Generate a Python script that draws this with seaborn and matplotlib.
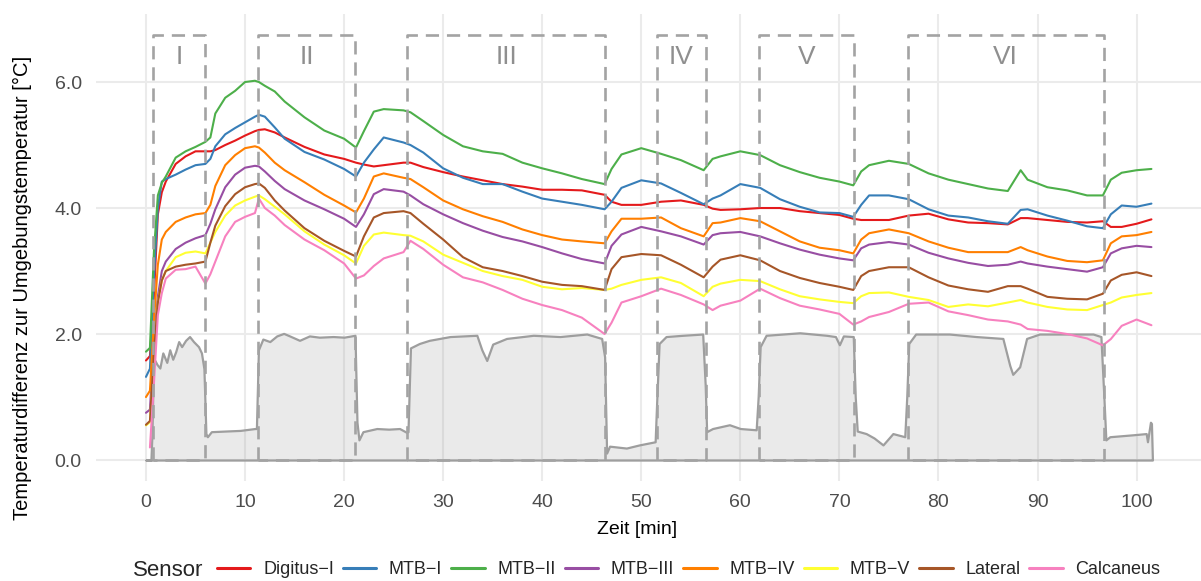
import numpy as np
import pandas as pd
import matplotlib
matplotlib.use("Agg")
import matplotlib.pyplot as plt
from matplotlib.lines import Line2D
import seaborn as sns

sns.set_theme(style="white")
plt.rcParams["font.family"] = ["Liberation Sans", "DejaVu Sans"]

# ---- sensor temperature differences (°C) over time (min) ----
time_min = [
    0, 0.4, 0.8, 1.2, 1.6, 2, 3, 4, 5, 6,
    6.5, 7, 8, 9, 10, 11, 11.4, 12, 13, 14,
    16, 18, 20, 21.2, 22, 23, 24, 26, 26.7, 28,
    30, 32, 34, 36, 38, 40, 42, 44, 46.3, 47,
    48, 50, 52, 54, 56.3, 57.2, 58, 60, 62, 64,
    66, 68, 70, 71.4, 72.2, 73, 75, 77, 79, 81,
    83, 85, 87, 88.3, 89, 91, 93, 95, 96.6, 97.4,
    98.5, 100, 101.5,
]

digitus_1 = [
    1.58, 1.65, 2.60, 3.90, 4.25, 4.42, 4.70, 4.82, 4.90, 4.90,
    4.90, 4.92, 5.00, 5.07, 5.15, 5.22, 5.24, 5.25, 5.20, 5.12,
    4.97, 4.85, 4.78, 4.72, 4.69, 4.66, 4.68, 4.72, 4.72, 4.65,
    4.57, 4.50, 4.44, 4.38, 4.34, 4.29, 4.29, 4.28, 4.21, 4.10,
    4.05, 4.05, 4.10, 4.12, 4.05, 3.99, 3.97, 3.98, 4.00, 4.00,
    3.95, 3.92, 3.89, 3.83, 3.81, 3.81, 3.81, 3.88, 3.91, 3.82,
    3.77, 3.76, 3.74, 3.84, 3.84, 3.81, 3.78, 3.77, 3.79, 3.70,
    3.70, 3.75, 3.82,
]

mtb_1 = [
    1.32, 1.45, 2.90, 4.00, 4.42, 4.46, 4.53, 4.61, 4.68, 4.70,
    4.78, 4.98, 5.17, 5.27, 5.36, 5.45, 5.48, 5.45, 5.28, 5.10,
    4.89, 4.77, 4.62, 4.50, 4.72, 4.93, 5.12, 5.04, 5.00, 4.88,
    4.63, 4.48, 4.38, 4.38, 4.26, 4.15, 4.10, 4.05, 3.98, 4.10,
    4.32, 4.44, 4.39, 4.24, 4.06, 4.15, 4.20, 4.38, 4.32, 4.14,
    4.02, 3.93, 3.92, 3.86, 4.05, 4.20, 4.20, 4.14, 3.98, 3.88,
    3.85, 3.79, 3.75, 3.97, 3.98, 3.88, 3.80, 3.71, 3.68, 3.90,
    4.04, 4.02, 4.07,
]

mtb_2 = [
    1.72, 1.78, 3.30, 4.20, 4.40, 4.50, 4.80, 4.90, 4.97, 5.05,
    5.12, 5.50, 5.75, 5.86, 6.00, 6.02, 6.00, 5.94, 5.85, 5.69,
    5.44, 5.23, 5.10, 4.96, 5.22, 5.53, 5.57, 5.55, 5.52, 5.38,
    5.16, 4.98, 4.90, 4.86, 4.72, 4.63, 4.55, 4.46, 4.38, 4.62,
    4.85, 4.95, 4.86, 4.76, 4.60, 4.78, 4.82, 4.90, 4.84, 4.68,
    4.57, 4.48, 4.42, 4.36, 4.58, 4.68, 4.75, 4.70, 4.55, 4.45,
    4.38, 4.31, 4.27, 4.60, 4.45, 4.33, 4.28, 4.20, 4.20, 4.45,
    4.56, 4.60, 4.62,
]

mtb_3 = [
    0.75, 0.80, 1.90, 2.60, 3.00, 3.15, 3.35, 3.45, 3.52, 3.57,
    3.75, 3.98, 4.33, 4.53, 4.64, 4.67, 4.66, 4.58, 4.43, 4.30,
    4.12, 3.98, 3.83, 3.70, 3.90, 4.22, 4.30, 4.26, 4.20, 4.06,
    3.90, 3.76, 3.64, 3.54, 3.47, 3.38, 3.28, 3.19, 3.12, 3.40,
    3.58, 3.70, 3.63, 3.55, 3.42, 3.57, 3.60, 3.62, 3.55, 3.44,
    3.34, 3.26, 3.20, 3.17, 3.36, 3.42, 3.46, 3.42, 3.29, 3.20,
    3.13, 3.08, 3.10, 3.15, 3.12, 3.07, 3.03, 2.99, 3.06, 3.28,
    3.36, 3.40, 3.38,
]

mtb_4 = [
    1.00, 1.10, 2.20, 3.10, 3.50, 3.62, 3.78, 3.85, 3.90, 3.92,
    4.05, 4.35, 4.68, 4.84, 4.95, 4.98, 4.96, 4.88, 4.72, 4.60,
    4.41, 4.21, 4.04, 3.93, 4.15, 4.50, 4.55, 4.48, 4.46, 4.33,
    4.12, 3.98, 3.87, 3.78, 3.66, 3.57, 3.50, 3.47, 3.44, 3.63,
    3.83, 3.83, 3.85, 3.68, 3.55, 3.76, 3.77, 3.84, 3.79, 3.63,
    3.47, 3.37, 3.33, 3.28, 3.50, 3.60, 3.66, 3.60, 3.47, 3.37,
    3.30, 3.30, 3.30, 3.38, 3.33, 3.23, 3.16, 3.14, 3.17, 3.44,
    3.55, 3.57, 3.62,
]

mtb_5 = [
    0.55, 0.60, 1.60, 2.50, 2.85, 3.00, 3.22, 3.29, 3.31, 3.28,
    3.45, 3.62, 3.88, 4.04, 4.12, 4.18, 4.20, 4.14, 4.02, 3.90,
    3.63, 3.42, 3.25, 3.12, 3.40, 3.58, 3.61, 3.57, 3.56, 3.47,
    3.26, 3.13, 3.00, 2.92, 2.86, 2.75, 2.71, 2.73, 2.70, 2.72,
    2.78, 2.86, 2.90, 2.81, 2.60, 2.75, 2.80, 2.86, 2.84, 2.71,
    2.60, 2.55, 2.51, 2.49, 2.60, 2.65, 2.66, 2.59, 2.54, 2.43,
    2.47, 2.44, 2.50, 2.54, 2.50, 2.43, 2.39, 2.38, 2.46, 2.50,
    2.58, 2.62, 2.65,
]

lateral = [
    0.56, 0.62, 1.70, 2.50, 2.85, 3.00, 3.07, 3.10, 3.12, 3.15,
    3.45, 3.72, 4.03, 4.22, 4.33, 4.38, 4.39, 4.32, 4.12, 3.96,
    3.68, 3.48, 3.32, 3.23, 3.55, 3.85, 3.92, 3.95, 3.92, 3.75,
    3.50, 3.22, 3.06, 3.00, 2.92, 2.83, 2.78, 2.76, 2.70, 3.03,
    3.22, 3.27, 3.25, 3.10, 2.90, 3.07, 3.18, 3.25, 3.17, 3.00,
    2.89, 2.81, 2.75, 2.70, 2.92, 3.00, 3.06, 3.06, 2.90, 2.77,
    2.71, 2.67, 2.76, 2.76, 2.72, 2.59, 2.56, 2.55, 2.64, 2.85,
    2.94, 2.98, 2.92,
]

calcaneus = [
    np.nan, 0.20, 1.20, 2.30, 2.65, 2.88, 3.02, 3.03, 3.07, 2.80,
    2.95, 3.15, 3.55, 3.78, 3.86, 3.92, 4.15, 4.00, 3.88, 3.73,
    3.50, 3.33, 3.12, 2.88, 2.93, 3.08, 3.20, 3.30, 3.48, 3.35,
    3.10, 2.90, 2.82, 2.70, 2.56, 2.46, 2.38, 2.26, 2.00, 2.18,
    2.50, 2.60, 2.72, 2.62, 2.47, 2.38, 2.45, 2.53, 2.72, 2.57,
    2.45, 2.39, 2.32, 2.15, 2.20, 2.27, 2.35, 2.48, 2.50, 2.36,
    2.30, 2.23, 2.20, 2.15, 2.08, 2.05, 2.00, 1.93, 1.82, 1.92,
    2.13, 2.23, 2.14,
]

sensor_names = ["Digitus−I", "MTB−I", "MTB−II", "MTB−III",
                "MTB−IV", "MTB−V", "Lateral", "Calcaneus"]
sensor_values = [digitus_1, mtb_1, mtb_2, mtb_3, mtb_4, mtb_5, lateral, calcaneus]

# ---- activity signal drawn as grey area ----
act_time = [
    0, 0.5, 0.6, 0.75, 0.9, 1.1, 1.4, 1.7, 2.1, 2.4,
    2.7, 3.0, 3.3, 3.6, 4.0, 4.4, 4.8, 5.3, 5.6, 5.85,
    6.05, 6.2, 6.6, 8.0, 9.5, 11.0, 11.15, 11.35, 11.8, 12.5,
    13.2, 13.9, 14.5, 15.5, 16.5, 17.5, 18.9, 20.0, 21.1, 21.3,
    21.5, 21.9, 23.3, 24.5, 25.6, 26.3, 26.45, 26.7, 27.6, 28.6,
    30.7, 33.4, 33.9, 34.4, 35.0, 36.4, 39.1, 41.8, 44.5, 46.0,
    46.3, 46.5, 46.8, 48.5, 49.8, 51.4, 51.55, 51.8, 52.5, 54.2,
    56.2, 56.45, 56.6, 57.2, 58.9, 60.0, 61.6, 61.8, 62.0, 62.6,
    66.0, 68.7, 69.6, 70.0, 70.4, 71.4, 71.6, 71.8, 72.7, 73.5,
    74.4, 75.4, 76.6, 76.8, 77.0, 77.7, 81.1, 83.8, 86.5, 87.2,
    87.5, 88.2, 88.9, 90.2, 92.9, 95.6, 96.4, 96.7, 96.9, 97.3,
    99.6, 100.97, 101.1, 101.4, 101.5, 101.6,
]
act_level = [
    0.00, 0.00, 0.40, 1.50, 1.58, 1.52, 1.46, 1.70, 1.55, 1.75,
    1.60, 1.72, 1.88, 1.80, 1.90, 1.96, 1.88, 1.80, 1.70, 1.45,
    0.42, 0.37, 0.45, 0.46, 0.47, 0.50, 0.50, 1.75, 1.92, 1.88,
    1.97, 2.01, 1.97, 1.90, 1.97, 1.95, 1.96, 1.95, 1.98, 0.60,
    0.32, 0.45, 0.50, 0.49, 0.50, 0.44, 0.45, 1.78, 1.85, 1.90,
    1.96, 1.98, 1.75, 1.58, 1.84, 1.93, 1.98, 1.96, 2.00, 1.93,
    1.64, 0.11, 0.22, 0.19, 0.24, 0.29, 0.90, 1.85, 1.96, 1.98,
    2.00, 1.20, 0.45, 0.50, 0.56, 0.50, 0.48, 1.00, 1.80, 1.98,
    2.02, 1.98, 1.96, 1.83, 1.97, 1.96, 1.00, 0.46, 0.42, 0.35,
    0.24, 0.42, 0.37, 1.00, 1.85, 2.00, 2.00, 1.96, 1.93, 1.50,
    1.36, 1.48, 1.93, 2.00, 2.00, 2.00, 1.96, 1.00, 0.32, 0.37,
    0.40, 0.42, 0.29, 0.60, 0.58, 0.00,
]

# ---- test phases (dashed frames) ----
phase_labels = ["I", "II", "III", "IV", "V", "VI"]
phase_start = [0.7, 11.3, 26.4, 51.6, 61.9, 76.9]
phase_end = [5.95, 21.1, 46.3, 56.5, 71.5, 96.7]
phase_top = 6.75
phase_label_y = 6.4

# long-form table for seaborn
frames = []
for name, vals in zip(sensor_names, sensor_values):
    frames.append(pd.DataFrame({"Zeit": time_min, "Wert": vals, "Sensor": name}))
df = pd.concat(frames, ignore_index=True).dropna()

W, H = 1201, 581
fig = plt.figure(figsize=(W / 100, H / 100), dpi=100)
ax = fig.add_axes([95.7 / W, (H - 481.3) / H, 1106 / W, 467.8 / H])

for s in ax.spines.values():
    s.set_visible(False)
ax.set_axisbelow(True)
ax.grid(True, color="#EBEBEB", lw=1.5, zorder=0)

# activity area
ax.fill_between(act_time, act_level, 0, facecolor=(0.6, 0.6, 0.6, 0.2),
                edgecolor="#9E9E9E", lw=1.6, zorder=1)

palette = sns.color_palette("Set1", n_colors=len(sensor_names))
sns.lineplot(data=df, x="Zeit", y="Wert", hue="Sensor", hue_order=sensor_names,
             palette=palette, estimator=None, lw=1.5, legend=False, ax=ax, zorder=2)

for lab, a, b in zip(phase_labels, phase_start, phase_end):
    ax.plot([a, a, b, b, a], [0, phase_top, phase_top, 0, 0], color="#A3A3A3",
            lw=1.9, ls=(0, (5, 3)), zorder=3)
    ax.text((a + b) / 2, phase_label_y, lab, ha="center", va="center",
            fontsize=19, color="#8F8F8F", zorder=3)

ax.set_xlim(-5.075, 106.575)
ax.set_ylim(-0.3375, 7.0875)
ax.set_xticks(np.arange(0, 101, 10))
ax.set_yticks([0, 2, 4, 6])
ax.set_yticklabels(["0.0", "2.0", "4.0", "6.0"])
ax.tick_params(axis="both", length=0, labelsize=14, labelcolor="#4D4D4D")
ax.tick_params(axis="y", pad=10)
ax.tick_params(axis="x", pad=9)
ax.set_xlabel("")
ax.set_ylabel("")

# axis titles
fig.text(637 / W, 1 - 529 / H, "Zeit [min]", ha="center", va="center",
         fontsize=14, color="black")
fig.text(22 / W, 1 - 288 / H, "Temperaturdifferenz zur Umgebungstemperatur [°C]",
         rotation=90, ha="center", va="center", fontsize=14.5, color="black")

# legend along the bottom
handles = [Line2D([0], [0], color=c, lw=2.2) for c in palette]
fig.text(133 / W, 1 - 570 / H, "Sensor", ha="left", va="center", fontsize=16)
fig.legend(handles, sensor_names, loc="center left", ncol=len(sensor_names),
           bbox_to_anchor=(217 / W, 1 - 570 / H), frameon=False, fontsize=13,
           handlelength=1.85, handletextpad=0.7, columnspacing=0.5,
           borderpad=0, borderaxespad=0)

fig.savefig("out.png", dpi=100)
